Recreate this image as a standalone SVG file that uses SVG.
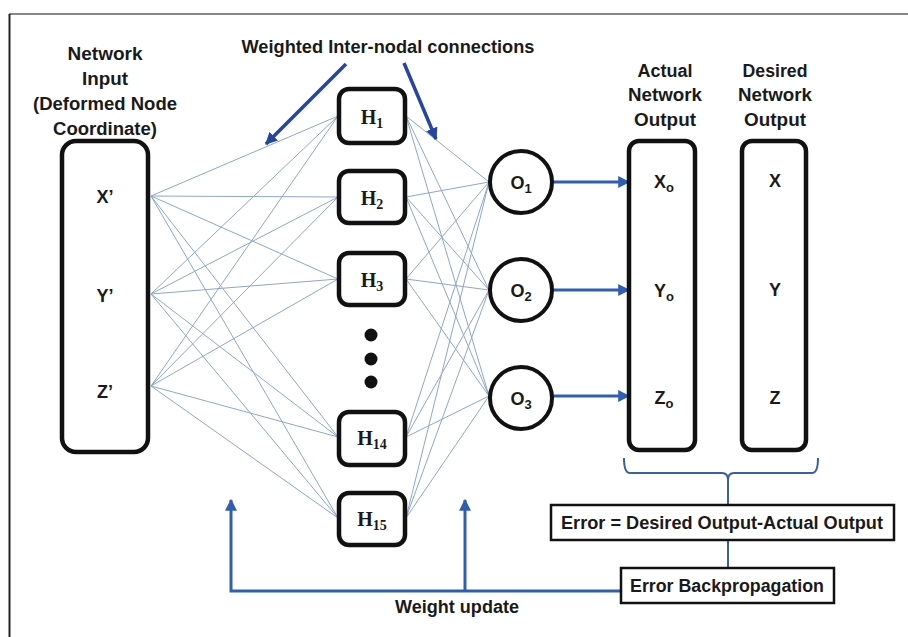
<svg xmlns="http://www.w3.org/2000/svg" width="908" height="637" viewBox="0 0 908 637">
<defs>
<style>
.lbl{font-family:"Liberation Sans",Arial,sans-serif;font-weight:bold;font-size:18px;fill:#1a1a1a;text-anchor:middle}
.ser{font-family:"Liberation Serif","Times New Roman",serif;font-weight:bold;font-size:20px;fill:#1a1a1a;text-anchor:middle}
.box{fill:#fff;stroke:#111;stroke-width:4.5}
.wire{stroke:#8ea6cc;stroke-width:1;fill:none}
.blue{stroke:#2f5fb3;stroke-width:3;fill:none}
.dblue{stroke:#2446a0;stroke-width:3.5;fill:none}
.thin{stroke:#3a5fa8;stroke-width:2;fill:none}
.plain{fill:#fff;stroke:#111;stroke-width:2.5}
</style>
<marker id="ah" viewBox="0 0 10 10" refX="9" refY="5" markerWidth="4" markerHeight="4" orient="auto" markerUnits="strokeWidth">
<path d="M0,0 L10,5 L0,10 z" fill="#2f5fb3"/>
</marker>
<marker id="ahd" viewBox="0 0 10 10" refX="9" refY="5" markerWidth="3.5" markerHeight="3.5" orient="auto" markerUnits="strokeWidth">
<path d="M0,0 L10,5 L0,10 z" fill="#2446a0"/>
</marker>
</defs>
<rect x="0" y="0" width="908" height="637" fill="#fff"/>
<line x1="9" y1="14" x2="908" y2="14" stroke="#888" stroke-width="2"/>
<line x1="9.5" y1="14" x2="9.5" y2="637" stroke="#222" stroke-width="2"/>

<g id="connectors">
<g id="input-hidden">
<line class="wire" x1="151" y1="196" x2="338" y2="116"/>
<line class="wire" x1="151" y1="196" x2="338" y2="197"/>
<line class="wire" x1="151" y1="196" x2="338" y2="279"/>
<line class="wire" x1="151" y1="196" x2="338" y2="437"/>
<line class="wire" x1="151" y1="196" x2="338" y2="518"/>
<line class="wire" x1="151" y1="294" x2="338" y2="116"/>
<line class="wire" x1="151" y1="294" x2="338" y2="197"/>
<line class="wire" x1="151" y1="294" x2="338" y2="279"/>
<line class="wire" x1="151" y1="294" x2="338" y2="437"/>
<line class="wire" x1="151" y1="294" x2="338" y2="518"/>
<line class="wire" x1="151" y1="386" x2="338" y2="116"/>
<line class="wire" x1="151" y1="386" x2="338" y2="197"/>
<line class="wire" x1="151" y1="386" x2="338" y2="279"/>
<line class="wire" x1="151" y1="386" x2="338" y2="437"/>
<line class="wire" x1="151" y1="386" x2="338" y2="518"/>
</g>
<g id="hidden-output">
<line class="wire" x1="406" y1="116" x2="489" y2="182"/>
<line class="wire" x1="406" y1="116" x2="489" y2="290"/>
<line class="wire" x1="406" y1="116" x2="489" y2="396"/>
<line class="wire" x1="406" y1="197" x2="489" y2="182"/>
<line class="wire" x1="406" y1="197" x2="489" y2="290"/>
<line class="wire" x1="406" y1="197" x2="489" y2="396"/>
<line class="wire" x1="406" y1="279" x2="489" y2="182"/>
<line class="wire" x1="406" y1="279" x2="489" y2="290"/>
<line class="wire" x1="406" y1="279" x2="489" y2="396"/>
<line class="wire" x1="406" y1="437" x2="489" y2="182"/>
<line class="wire" x1="406" y1="437" x2="489" y2="290"/>
<line class="wire" x1="406" y1="437" x2="489" y2="396"/>
<line class="wire" x1="406" y1="518" x2="489" y2="182"/>
<line class="wire" x1="406" y1="518" x2="489" y2="290"/>
<line class="wire" x1="406" y1="518" x2="489" y2="396"/>
</g>
<line class="dblue" x1="346" y1="64" x2="266" y2="144" marker-end="url(#ahd)"/>
<line class="dblue" x1="404" y1="63" x2="436" y2="139" marker-end="url(#ahd)"/>
<line class="blue" x1="553" y1="182" x2="629" y2="182" marker-end="url(#ah)"/>
<line class="blue" x1="553" y1="290" x2="629" y2="290" marker-end="url(#ah)"/>
<line class="blue" x1="553" y1="396" x2="629" y2="396" marker-end="url(#ah)"/>
<path class="thin" d="M624,458 Q624,473 630,473 L722,473 Q728,473 728,480 Q728,473 734,473 L812,473 Q818,473 818,458"/>
<line class="thin" x1="728" y1="478" x2="728" y2="505"/>
<line class="thin" x1="728" y1="540" x2="728" y2="568"/>
<path class="blue" d="M621,591 L231,591 L231,500" marker-end="url(#ah)"/>
<line class="blue" x1="465" y1="591" x2="465" y2="500" marker-end="url(#ah)"/>
</g>

<text class="lbl" x="388" y="53" textLength="293" lengthAdjust="spacingAndGlyphs">Weighted Inter-nodal connections</text>

<g id="input">
<text class="lbl" x="105" y="60" textLength="75" lengthAdjust="spacingAndGlyphs">Network</text>
<text class="lbl" x="105" y="85" textLength="46" lengthAdjust="spacingAndGlyphs">Input</text>
<text class="lbl" x="105" y="110" textLength="144" lengthAdjust="spacingAndGlyphs">(Deformed Node</text>
<text class="lbl" x="105" y="135" textLength="104" lengthAdjust="spacingAndGlyphs">Coordinate)</text>
<rect class="box" x="62" y="141" width="86" height="311" rx="14"/>
<text class="lbl" x="105" y="203">X’</text>
<text class="lbl" x="105" y="302">Y’</text>
<text class="lbl" x="105" y="398">Z’</text>
</g>

<g id="H1"><rect class="box" x="339" y="89" width="66" height="54" rx="10"/><text class="ser" x="372" y="124">H<tspan font-size="14" dy="4">1</tspan></text></g>
<g id="H2"><rect class="box" x="339" y="171" width="66" height="52" rx="10"/><text class="ser" x="372" y="205">H<tspan font-size="14" dy="4">2</tspan></text></g>
<g id="H3"><rect class="box" x="339" y="253" width="66" height="52" rx="10"/><text class="ser" x="372" y="287">H<tspan font-size="14" dy="4">3</tspan></text></g>
<g id="dots"><circle cx="371" cy="335" r="6.5" fill="#111"/><circle cx="371" cy="359" r="6.5" fill="#111"/><circle cx="371" cy="382" r="6.5" fill="#111"/></g>
<g id="H14"><rect class="box" x="339" y="412" width="66" height="53" rx="10"/><text class="ser" x="372" y="445">H<tspan font-size="14" dy="4">14</tspan></text></g>
<g id="H15"><rect class="box" x="339" y="493" width="66" height="52" rx="10"/><text class="ser" x="372" y="526">H<tspan font-size="14" dy="4">15</tspan></text></g>

<g id="O1"><circle cx="521" cy="182" r="31" fill="#fff" stroke="#111" stroke-width="4"/><text class="lbl" x="521" y="189">O<tspan font-size="13" dy="4">1</tspan></text></g>
<g id="O2"><circle cx="521" cy="290" r="31" fill="#fff" stroke="#111" stroke-width="4"/><text class="lbl" x="521" y="297">O<tspan font-size="13" dy="4">2</tspan></text></g>
<g id="O3"><circle cx="521" cy="398" r="31" fill="#fff" stroke="#111" stroke-width="4"/><text class="lbl" x="521" y="405">O<tspan font-size="13" dy="4">3</tspan></text></g>

<g id="actual">
<text class="lbl" x="665" y="77" textLength="55" lengthAdjust="spacingAndGlyphs">Actual</text>
<text class="lbl" x="665" y="101" textLength="74" lengthAdjust="spacingAndGlyphs">Network</text>
<text class="lbl" x="665" y="126" textLength="62" lengthAdjust="spacingAndGlyphs">Output</text>
<rect class="box" x="629" y="141" width="66" height="309" rx="10"/>
<text class="lbl" x="664" y="188">X<tspan font-size="13" dy="4">o</tspan></text>
<text class="lbl" x="664" y="297">Y<tspan font-size="13" dy="4">o</tspan></text>
<text class="lbl" x="664" y="404">Z<tspan font-size="13" dy="4">o</tspan></text>
</g>

<g id="desired">
<text class="lbl" x="775" y="77" textLength="65" lengthAdjust="spacingAndGlyphs">Desired</text>
<text class="lbl" x="775" y="101" textLength="74" lengthAdjust="spacingAndGlyphs">Network</text>
<text class="lbl" x="775" y="126" textLength="62" lengthAdjust="spacingAndGlyphs">Output</text>
<rect class="box" x="742" y="141" width="64" height="309" rx="10"/>
<text class="lbl" x="775" y="187">X</text>
<text class="lbl" x="775" y="296">Y</text>
<text class="lbl" x="775" y="404">Z</text>
</g>

<g id="error">
<rect class="plain" x="551" y="505" width="343" height="35"/>
<text class="lbl" x="722" y="529" textLength="322" lengthAdjust="spacingAndGlyphs">Error = Desired Output-Actual Output</text>
</g>
<g id="backprop">
<rect class="plain" x="621" y="568" width="213" height="35"/>
<text class="lbl" x="727" y="592" textLength="194" lengthAdjust="spacingAndGlyphs">Error Backpropagation</text>
</g>
<text class="lbl" x="457" y="613" textLength="124" lengthAdjust="spacingAndGlyphs">Weight update</text>
</svg>
